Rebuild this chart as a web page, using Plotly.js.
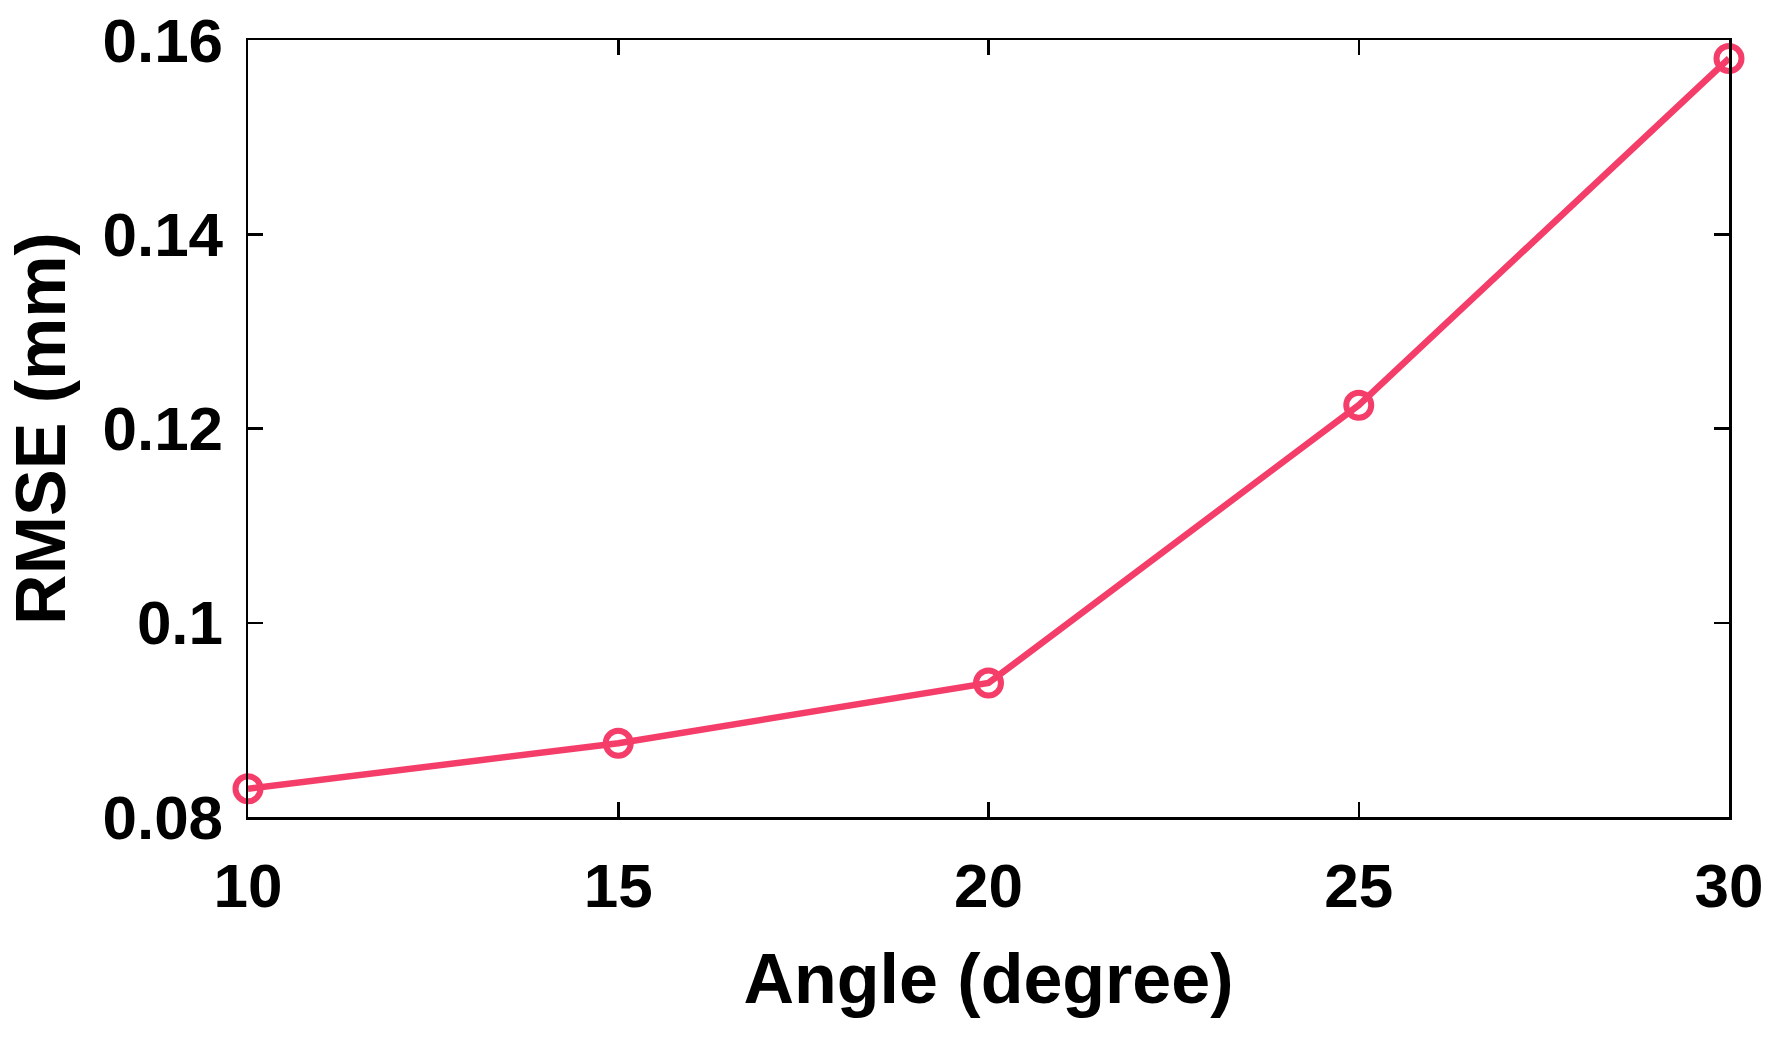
<!DOCTYPE html>
<html>
<head>
<meta charset="utf-8">
<script src="https://cdn.plot.ly/plotly-3.0.1.min.js"></script>
<style>html,body{margin:0;padding:0;background:#fff;}#chart{width:1773px;height:1037px;}</style>
</head>
<body>
<div id="chart"></div>
<script>
const angles = [10, 15, 20, 25, 30];
const rmse = [0.0829, 0.0876, 0.0938, 0.1224, 0.1581];
const xTickVals = [10, 15, 20, 25, 30];
const xTickText = ['10', '15', '20', '25', '30'];
const yTickVals = [0.08, 0.10, 0.12, 0.14, 0.16];
const yTickText = ['0.08', '0.1', '0.12', '0.14', '0.16'];

const color = '#F43D69';
const fontFam = '"Liberation Sans", Arial, sans-serif';

const trace = {
  x: angles, y: rmse, type: 'scatter', mode: 'lines+markers',
  line: {color: color, width: 6.5},
  marker: {symbol: 'circle-open', size: 25, color: color, line: {width: 6, color: color}},
  cliponaxis: false, showlegend: false
};

const axisCommon = {
  showline: true, linecolor: '#000', linewidth: 2.5, mirror: 'ticks',
  ticks: 'inside', ticklen: 15, tickwidth: 2.5, tickcolor: '#000',
  showgrid: false, zeroline: false,
  tickfont: {family: fontFam, size: 62, color: '#000', weight: 'bold'}
};

const layout = {
  width: 1773, height: 1037,
  margin: {l: 248, r: 44, t: 40, b: 220},
  paper_bgcolor: '#fff', plot_bgcolor: '#fff',
  font: {family: fontFam, color: '#000'},
  xaxis: Object.assign({}, axisCommon, {
    range: [10, 30], tickmode: 'array', tickvals: xTickVals, ticktext: xTickText,
    ticklabelstandoff: 13,
    title: {text: '<b>Angle (degree)</b>', font: {family: fontFam, size: 70, color: '#000'}, standoff: 35}
  }),
  yaxis: Object.assign({}, axisCommon, {
    range: [0.08, 0.16], tickmode: 'array', tickvals: yTickVals, ticktext: yTickText,
    ticklabelstandoff: 10,
    title: {text: '<b>RMSE (mm)</b>', font: {family: fontFam, size: 70, color: '#000'}, standoff: 14}
  })
};

Plotly.newPlot('chart', [trace], layout, {displayModeBar: false, staticPlot: true});
</script>
</body>
</html>
